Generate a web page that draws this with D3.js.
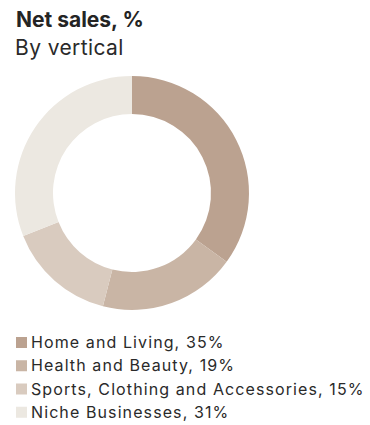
<!DOCTYPE html>
<html>
<head>
<meta charset="utf-8">
<script src="https://cdn.jsdelivr.net/npm/d3@7"></script>
<style>
  body { margin: 0; background: #fff; }
  svg text { font-family: Inter, "Open Sans", sans-serif; fill: #242424; }
</style>
</head>
<body>
<svg id="chart" width="370" height="425"></svg>
<script>
var categories = ["Home and Living", "Health and Beauty", "Sports, Clothing and Accessories", "Niche Businesses"];
var shares = [35, 19, 15, 31];
var colors = ["#bba290", "#c9b5a5", "#d9cbbf", "#ece8e1"];

var svg = d3.select("#chart");

// title block
svg.append("text").attr("x", 16).attr("y", 27)
  .style("font-size", "21px").style("font-weight", 700)
  .text("Net sales, %");
svg.append("text").attr("x", 15).attr("y", 55)
  .style("font-size", "21px").style("fill", "#2a2a2a")
  .style("letter-spacing", "0.4px")
  .text("By vertical");

// donut
var pie = d3.pie().sort(null).value(function(d) { return d; });
var arc = d3.arc().innerRadius(79).outerRadius(117);
var color = d3.scaleOrdinal().domain(categories).range(colors);

var g = svg.append("g").attr("transform", "translate(132,193)");
g.selectAll("path")
  .data(pie(shares))
  .enter()
  .append("path")
  .attr("d", arc)
  .attr("fill", function(d, i) { return color(categories[i]); });

// legend
var y = d3.scaleBand().domain(categories).range([336, 429]);
var legend = svg.selectAll("g.leg")
  .data(categories)
  .enter()
  .append("g")
  .attr("class", "leg")
  .attr("transform", function(d) { return "translate(0," + y(d) + ")"; });
legend.append("rect")
  .attr("x", 16).attr("y", 1).attr("width", 11).attr("height", 11)
  .attr("fill", function(d) { return color(d); });
legend.append("text")
  .attr("x", 31).attr("y", 12)
  .style("font-size", "16px").style("fill", "#2a2a2a")
  .style("letter-spacing", "1.1px")
  .text(function(d, i) { return d + ", " + shares[i] + "%"; });
</script>
</body>
</html>
